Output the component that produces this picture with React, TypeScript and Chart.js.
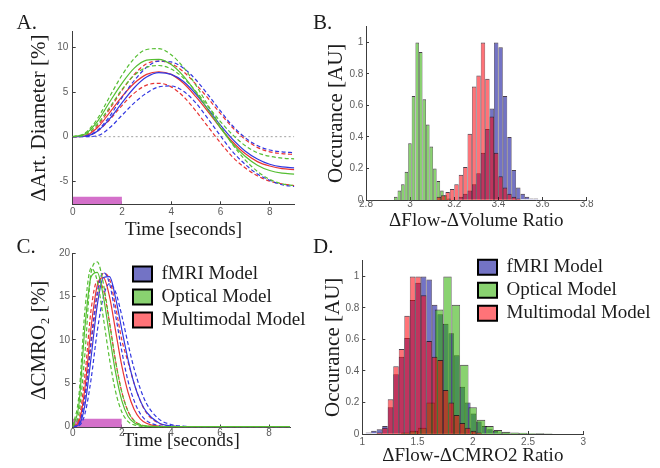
import React, { useEffect, useRef } from "react";
import { Chart, registerables } from "chart.js";

Chart.register(...registerables);

const PAGE_W = 660;
const PAGE_H = 468;

// ---------------- Panel A : arterial diameter ----------------
const A_TIME = [0, 0.5, 1, 1.5, 2, 2.5, 3, 3.5, 4, 4.5, 5, 5.5, 6, 6.5, 7, 7.5, 8, 8.5, 9];
const A_FMRI_MEAN = [0, 0.05, 0.6, 2.0, 3.8, 5.5, 6.7, 7.2, 7.0, 6.2, 4.8, 3.1, 1.3, -0.3, -1.6, -2.5, -3.1, -3.4, -3.5];
const A_FMRI_HI = [0, 0.05, 0.7, 2.3, 4.4, 6.3, 7.8, 8.5, 8.4, 7.7, 6.4, 4.7, 2.9, 1.2, -0.1, -1.0, -1.5, -1.7, -1.8];
const A_FMRI_LO = [0, 0, 0.1, 1.0, 2.4, 3.8, 4.9, 5.6, 5.7, 5.1, 3.8, 2.0, 0.1, -1.7, -3.1, -4.2, -4.9, -5.4, -5.6];
const A_OPT_MEAN = [0, 0.3, 1.7, 3.9, 6.0, 7.7, 8.6, 8.7, 8.1, 6.8, 5.0, 3.0, 1.0, -0.8, -2.2, -3.2, -3.8, -4.1, -4.2];
const A_OPT_HI = [0, 0.4, 2.0, 4.5, 6.9, 8.8, 9.8, 9.9, 9.2, 7.8, 5.8, 3.5, 1.2, -0.9, -2.6, -3.9, -4.8, -5.3, -5.5];
const A_OPT_LO = [0, 0.2, 1.4, 3.3, 5.3, 6.9, 7.8, 8.0, 7.6, 6.6, 5.1, 3.4, 1.7, 0.2, -1.0, -1.8, -2.2, -2.4, -2.5];
const A_MM_MEAN = [0, 0.1, 1.0, 2.7, 4.5, 6.0, 7.0, 7.3, 7.0, 6.0, 4.5, 2.8, 1.0, -0.6, -1.9, -2.8, -3.3, -3.6, -3.7];
const A_MM_HI = [0, 0.1, 1.2, 3.1, 5.2, 7.0, 8.2, 8.5, 8.2, 7.3, 5.9, 4.3, 2.6, 1.0, -0.3, -1.2, -1.7, -1.9, -2.0];
const A_MM_LO = [0, 0.05, 0.6, 1.9, 3.5, 4.9, 5.8, 6.0, 5.6, 4.5, 2.9, 1.1, -0.7, -2.3, -3.5, -4.4, -5.0, -5.3, -5.5];
const A_X_TICKS = [0, 2, 4, 6, 8];
const A_Y_TICKS = [-5, 0, 5, 10];
const A_X_RANGE = [0, 9];
const A_Y_RANGE = [-7.6, 11.8];
const A_ZERO_X = [0, 9];
const A_ZERO_Y = 0;
const STIM_X = [0, 2];
const A_STIM_TOP = -6.75;

// ---------------- Panel B : flow-volume ratio ----------------
const B_FMRI_X = [3.23, 3.25, 3.27, 3.29, 3.31, 3.33, 3.35, 3.37, 3.39, 3.41, 3.43, 3.45, 3.47, 3.49, 3.51, 3.53, 3.55, 3.57, 3.59];
const B_FMRI_Y = [0.02, 0.04, 0.06, 0.1, 0.17, 0.3, 0.45, 0.58, 1.0, 0.97, 0.66, 0.4, 0.19, 0.08, 0.04, 0.02, 0.01, 0.01, 0.005];
const B_OPT_X = [2.935, 2.951, 2.967, 2.983, 2.999, 3.015, 3.032, 3.048, 3.064, 3.08, 3.096, 3.112, 3.128, 3.144, 3.16, 3.176];
const B_OPT_Y = [0.02, 0.06, 0.1, 0.18, 0.36, 0.66, 1.0, 0.94, 0.64, 0.48, 0.34, 0.2, 0.12, 0.06, 0.03, 0.01];
const B_MM_X = [3.13, 3.15, 3.17, 3.19, 3.21, 3.23, 3.25, 3.27, 3.29, 3.31, 3.33, 3.35, 3.37, 3.39, 3.41, 3.43, 3.45, 3.47, 3.49];
const B_MM_Y = [0.02, 0.03, 0.05, 0.07, 0.1, 0.16, 0.21, 0.42, 0.72, 0.79, 1.0, 0.77, 0.53, 0.3, 0.15, 0.08, 0.04, 0.02, 0.01];
const B_X_TICKS = [2.8, 3, 3.2, 3.4, 3.6, 3.8];
const B_X_RANGE = [2.8, 3.8];
const HIST_Y_TICKS = [0, 0.2, 0.4, 0.6, 0.8, 1];
const HIST_Y_RANGE = [0, 1.1];

// ---------------- Panel C : CMRO2 ----------------
const C_TIME = [0, 0.25, 0.5, 0.75, 1, 1.25, 1.5, 1.75, 2, 2.25, 2.5, 2.75, 3, 3.5, 4, 4.5, 5, 6, 7, 8, 8.85];
const C_FMRI_MEAN = [0, 0.2, 2.5, 8.0, 14.0, 17.2, 17.3, 14.8, 11.2, 7.8, 5.0, 3.0, 1.7, 0.45, 0.08, 0, 0, 0, 0, 0, 0];
const C_FMRI_HI = [0, 0.1, 1.5, 5.5, 11.0, 15.0, 16.5, 15.5, 12.8, 9.6, 6.7, 4.4, 2.7, 0.9, 0.25, 0.05, 0, 0, 0, 0, 0];
const C_FMRI_LO = [0, 0.3, 3.5, 10.0, 15.5, 17.8, 16.5, 12.8, 8.7, 5.3, 3.0, 1.5, 0.7, 0.12, 0, 0, 0, 0, 0, 0, 0];
const C_OPT_MEAN = [0, 2.5, 11.5, 17.3, 17.8, 15.0, 10.5, 6.2, 3.0, 1.2, 0.45, 0.15, 0.05, 0, 0, 0, 0, 0, 0, 0, 0];
const C_OPT_HI = [0, 1.5, 8.5, 17.8, 19.0, 16.5, 12.0, 7.5, 4.0, 1.8, 0.7, 0.25, 0.08, 0, 0, 0, 0, 0, 0, 0, 0];
const C_OPT_LO = [0, 3.5, 13.5, 18.3, 16.8, 12.5, 7.8, 4.0, 1.7, 0.6, 0.2, 0.05, 0, 0, 0, 0, 0, 0, 0, 0, 0];
const C_MM_MEAN = [0, 0.5, 4.5, 11.5, 16.3, 17.2, 15.0, 11.0, 7.0, 4.0, 2.0, 0.9, 0.4, 0.05, 0, 0, 0, 0, 0, 0, 0];
const C_MM_HI = [0, 0.4, 3.5, 9.5, 15.0, 17.7, 17.0, 13.8, 10.0, 7.5, 5.0, 3.0, 1.6, 0.4, 0.08, 0, 0, 0, 0, 0, 0];
const C_MM_LO = [0, 0.8, 6.0, 13.5, 16.8, 15.8, 12.0, 7.5, 4.0, 1.8, 0.7, 0.25, 0.08, 0, 0, 0, 0, 0, 0, 0, 0];
const C_X_TICKS = [0, 2, 4, 6, 8];
const C_Y_TICKS = [0, 5, 10, 15, 20];
const C_X_RANGE = [0, 8.85];
const C_Y_RANGE = [-0.1, 20];
const C_STIM_TOP = 0.9;

// ---------------- Panel D : flow-CMRO2 ratio ----------------
const D_FMRI_X = [1.055, 1.105, 1.155, 1.205, 1.255, 1.305, 1.355, 1.405, 1.455, 1.505, 1.555, 1.605, 1.655, 1.705, 1.755, 1.805, 1.855, 1.905, 1.955, 2.005, 2.055, 2.105, 2.155, 2.205, 2.255, 2.305];
const D_FMRI_Y = [0.01, 0.02, 0.03, 0.05, 0.17, 0.38, 0.49, 0.61, 0.85, 0.96, 1.0, 0.98, 0.82, 0.76, 0.7, 0.64, 0.5, 0.3, 0.2, 0.13, 0.08, 0.05, 0.03, 0.02, 0.01, 0.01];
const D_OPT_X = [1.391, 1.467, 1.543, 1.619, 1.695, 1.771, 1.847, 1.923, 1.999, 2.075, 2.151, 2.227, 2.303, 2.379, 2.455, 2.531, 2.607, 2.683];
const D_OPT_Y = [0.01, 0.02, 0.04, 0.2, 0.79, 1.0, 0.82, 0.44, 0.17, 0.09, 0.05, 0.025, 0.015, 0.01, 0.008, 0.005, 0.004, 0.003];
const D_MM_X = [1.155, 1.205, 1.255, 1.305, 1.355, 1.405, 1.455, 1.505, 1.555, 1.605, 1.655, 1.705, 1.755, 1.805, 1.855, 1.905, 1.955, 2.005, 2.055];
const D_MM_Y = [0.01, 0.04, 0.22, 0.43, 0.54, 0.75, 1.0, 1.0, 0.88, 0.59, 0.49, 0.47, 0.28, 0.2, 0.12, 0.07, 0.04, 0.02, 0.01];
const D_X_TICKS = [1, 1.5, 2, 2.5, 3];
const D_X_RANGE = [1, 3];

const MODEL_NAMES = ["fMRI Model", "Optical Model", "Multimodal Model"];

// ---------------- styles ----------------
const SERIF = "'Liberation Serif', 'Times New Roman', 'DejaVu Serif', serif";
const SANS = "'Liberation Sans', Arial, 'DejaVu Sans', sans-serif";
const AXIS_COLOR = "#3c3c3c";
const TICK_COLOR = "#5c5c5c";
const TEXT_COLOR = "#1c1c1c";
const LINE_COLORS = ["rgb(50,55,225)", "rgb(85,190,50)", "rgb(232,52,52)"];
const FILLS = ["rgba(0,0,150,0.55)", "rgba(45,175,0,0.56)", "rgba(255,0,10,0.55)"];
const BAR_EDGE = "rgba(30,15,30,0.8)";
const BAR_EDGE_WIDTH = { left: 0.6, right: 0.6, top: 1, bottom: 0 };
const STIM_COLOR = "rgb(212,112,202)";
const DASH = [4, 2.5];

type Geo = {
  left: number; top: number; right: number; bottom: number;
  yTitleX: number; xTitleY: number; yTitleSize: number; xTitleSize: number;
  xTickPad: number; yTickPad: number;
};

const GEO_A: Geo = { left: 72.7, top: 31.7, right: 294.3, bottom: 204.3, yTitleX: 39.3, xTitleY: 230.2, yTitleSize: 21, xTitleSize: 19, xTickPad: 5, yTickPad: 7.4 };
const GEO_B: Geo = { left: 366, top: 26.7, right: 586.7, bottom: 200, yTitleX: 336, xTitleY: 221.2, yTitleSize: 21, xTitleSize: 19, xTickPad: 1.4, yTickPad: 5.7 };
const GEO_C: Geo = { left: 72.7, top: 253.3, right: 290, bottom: 427.5, yTitleX: 39.3, xTitleY: 441.2, yTitleSize: 21, xTitleSize: 19, xTickPad: 2.9, yTickPad: 5.7 };
const GEO_D: Geo = { left: 362.3, top: 260.7, right: 583.3, bottom: 434, yTitleX: 333, xTitleY: 456.2, yTitleSize: 21, xTitleSize: 19, xTickPad: 5.4, yTickPad: 6 };

function frame(g: Geo) {
  const yLH = g.yTitleSize * 1.2;
  const xLH = g.xTitleSize * 1.2;
  const padLeft = g.yTitleX - yLH / 2;
  const xBottom = g.xTitleY + xLH / 2;
  return {
    padding: { left: padLeft, top: g.top, right: PAGE_W - g.right, bottom: PAGE_H - xBottom },
    yWidth: g.left - padLeft,
    xHeight: xBottom - g.bottom,
  };
}

const setTicks = (values: number[]) => (s: any) => {
  s.ticks = values.map((v) => ({ value: v }));
};

function axisCommon(ticks: number[], pad: number) {
  return {
    afterBuildTicks: setTicks(ticks),
    ticks: {
      autoSkip: false, maxRotation: 0, minRotation: 0, padding: pad, color: TICK_COLOR,
      font: { family: SANS, size: 10 }, callback: (v: any) => String(v),
    },
    grid: { display: true, drawOnChartArea: false, drawTicks: true, tickLength: -3, tickColor: AXIS_COLOR, offset: false },
    border: { display: true, color: AXIS_COLOR, width: 1 },
  };
}

function xAxis(g: Geo, f: any, range: number[], ticks: number[], title: string) {
  return {
    type: "linear", position: "bottom", min: range[0], max: range[1], offset: false,
    afterFit: (s: any) => { s.height = f.xHeight; },
    ...axisCommon(ticks, g.xTickPad),
    title: { display: true, text: title, color: TEXT_COLOR, font: { family: SERIF, size: g.xTitleSize }, padding: 0 },
  };
}

function yAxis(g: Geo, f: any, range: number[], ticks: number[], title: string) {
  return {
    type: "linear", position: "left", min: range[0], max: range[1],
    afterFit: (s: any) => { s.width = f.yWidth; },
    ...axisCommon(ticks, g.yTickPad),
    title: { display: true, text: title, color: TEXT_COLOR, font: { family: SERIF, size: g.yTitleSize }, padding: 0 },
  };
}

const pts = (xs: number[], ys: number[]) => xs.map((x, i) => ({ x, y: ys[i] }));

function lineDs(xs: number[], ys: number[], model: number, dashed: boolean) {
  return {
    type: "line", data: pts(xs, ys), borderColor: LINE_COLORS[model], borderWidth: 1.2,
    borderDash: dashed ? DASH : [], pointRadius: 0, fill: false, cubicInterpolationMode: "monotone", order: 1,
  };
}

function stimDs(top: number) {
  return {
    type: "line", data: pts(STIM_X, [top, top]), borderWidth: 0, borderColor: STIM_COLOR,
    backgroundColor: STIM_COLOR, pointRadius: 0, fill: "start", order: 20,
  };
}

function histDs(xs: number[], ys: number[], model: number) {
  return {
    type: "bar", label: MODEL_NAMES[model], data: pts(xs, ys),
    backgroundColor: FILLS[model], borderColor: BAR_EDGE, borderWidth: BAR_EDGE_WIDTH,
    borderSkipped: false, inflateAmount: 0,
    categoryPercentage: 1, barPercentage: 1,
  };
}

function placeLegend(x: number, y: number) {
  return {
    id: "placeLegend",
    afterLayout(chart: any) {
      const l = chart.legend;
      if (!l) return;
      const w = l.width;
      const h = l.height;
      l.left = x; l.top = y; l.right = x + w; l.bottom = y + h;
    },
  };
}

function legendOpts() {
  return {
    display: true, position: "chartArea", align: "start",
    labels: {
      boxWidth: 19, boxHeight: 15, padding: 4, color: TEXT_COLOR,
      font: { family: SERIF, size: 19 },
      generateLabels: () => MODEL_NAMES.map((name, i) => ({
        text: name, fillStyle: FILLS[i], strokeStyle: "#000", lineWidth: 2,
        hidden: false, datasetIndex: i, fontColor: TEXT_COLOR,
      })),
    },
  };
}

const baseOptions = (padding: any) => ({
  responsive: false, animation: false, devicePixelRatio: 1, events: [],
  layout: { padding },
});

function configA() {
  const f = frame(GEO_A);
  return {
    type: "line",
    data: {
      datasets: [
        lineDs(A_TIME, A_OPT_HI, 1, true), lineDs(A_TIME, A_OPT_LO, 1, true), lineDs(A_TIME, A_OPT_MEAN, 1, false),
        lineDs(A_TIME, A_FMRI_HI, 0, true), lineDs(A_TIME, A_FMRI_LO, 0, true), lineDs(A_TIME, A_FMRI_MEAN, 0, false),
        lineDs(A_TIME, A_MM_HI, 2, true), lineDs(A_TIME, A_MM_LO, 2, true), lineDs(A_TIME, A_MM_MEAN, 2, false),
        { type: "line", data: pts(A_ZERO_X, [A_ZERO_Y, A_ZERO_Y]), borderColor: "#a0a0a0", borderWidth: 1, borderDash: [2, 2.5], pointRadius: 0, fill: false, order: 15 },
        stimDs(A_STIM_TOP),
      ],
    },
    options: {
      ...baseOptions(f.padding),
      plugins: { legend: { display: false }, tooltip: { enabled: false } },
      scales: {
        x: xAxis(GEO_A, f, A_X_RANGE, A_X_TICKS, "Time [seconds]"),
        y: yAxis(GEO_A, f, A_Y_RANGE, A_Y_TICKS, "ΔArt. Diameter [%]"),
      },
    },
  };
}

function configC() {
  const f = frame(GEO_C);
  return {
    type: "line",
    data: {
      datasets: [
        lineDs(C_TIME, C_OPT_HI, 1, true), lineDs(C_TIME, C_OPT_LO, 1, true), lineDs(C_TIME, C_OPT_MEAN, 1, false),
        lineDs(C_TIME, C_FMRI_HI, 0, true), lineDs(C_TIME, C_FMRI_LO, 0, true), lineDs(C_TIME, C_FMRI_MEAN, 0, false),
        lineDs(C_TIME, C_MM_HI, 2, true), lineDs(C_TIME, C_MM_LO, 2, true), lineDs(C_TIME, C_MM_MEAN, 2, false),
        stimDs(C_STIM_TOP),
      ],
    },
    options: {
      ...baseOptions(f.padding),
      plugins: { legend: legendOpts(), tooltip: { enabled: false } },
      scales: {
        x: xAxis(GEO_C, f, C_X_RANGE, C_X_TICKS, "Time [seconds]"),
        y: yAxis(GEO_C, f, C_Y_RANGE, C_Y_TICKS, "ΔCMRO₂ [%]"),
      },
    },
    plugins: [placeLegend(129, 260.5)],
  };
}

// One histogram per chart instance, stacked as transparent layers on the same plot frame.
type HistLayer = {
  g: Geo; xRange: number[]; xTicks: number[]; xs: number[]; ys: number[]; model: number;
  axes?: { x: string; y: string }; legendAt?: number[];
};

function histConfig(h: HistLayer) {
  const f = frame(h.g);
  const padding = h.axes
    ? f.padding
    : { left: h.g.left, top: h.g.top, right: PAGE_W - h.g.right, bottom: PAGE_H - h.g.bottom };
  const scales = h.axes
    ? {
        x: xAxis(h.g, f, h.xRange, h.xTicks, h.axes.x),
        y: yAxis(h.g, f, HIST_Y_RANGE, HIST_Y_TICKS, h.axes.y),
      }
    : {
        x: { type: "linear", display: false, min: h.xRange[0], max: h.xRange[1], offset: false, afterBuildTicks: setTicks(h.xTicks), grid: { offset: false } },
        y: { type: "linear", display: false, min: HIST_Y_RANGE[0], max: HIST_Y_RANGE[1] },
      };
  return {
    type: "bar",
    data: { datasets: [histDs(h.xs, h.ys, h.model)] },
    options: {
      ...baseOptions(padding),
      plugins: { legend: h.legendAt ? legendOpts() : { display: false }, tooltip: { enabled: false } },
      scales,
    },
    plugins: h.legendAt ? [placeLegend(h.legendAt[0], h.legendAt[1])] : [],
  };
}

const configB0 = () => histConfig({ g: GEO_B, xRange: B_X_RANGE, xTicks: B_X_TICKS, xs: B_FMRI_X, ys: B_FMRI_Y, model: 0, axes: { x: "ΔFlow-ΔVolume Ratio", y: "Occurance [AU]" } });
const configB1 = () => histConfig({ g: GEO_B, xRange: B_X_RANGE, xTicks: B_X_TICKS, xs: B_OPT_X, ys: B_OPT_Y, model: 1 });
const configB2 = () => histConfig({ g: GEO_B, xRange: B_X_RANGE, xTicks: B_X_TICKS, xs: B_MM_X, ys: B_MM_Y, model: 2 });
const configD0 = () => histConfig({ g: GEO_D, xRange: D_X_RANGE, xTicks: D_X_TICKS, xs: D_FMRI_X, ys: D_FMRI_Y, model: 0, axes: { x: "ΔFlow-ΔCMRO2 Ratio", y: "Occurance [AU]" } });
const configD1 = () => histConfig({ g: GEO_D, xRange: D_X_RANGE, xTicks: D_X_TICKS, xs: D_OPT_X, ys: D_OPT_Y, model: 1 });
const configD2 = () => histConfig({ g: GEO_D, xRange: D_X_RANGE, xTicks: D_X_TICKS, xs: D_MM_X, ys: D_MM_Y, model: 2, legendAt: [474, 253.8] });

function ChartLayer({ build }: { build: () => any }) {
  const ref = useRef<HTMLCanvasElement | null>(null);
  useEffect(() => {
    if (!ref.current) return;
    const chart = new Chart(ref.current, build());
    return () => chart.destroy();
  }, [build]);
  return (
    <canvas
      ref={ref}
      width={PAGE_W}
      height={PAGE_H}
      style={{ position: "absolute", left: 0, top: 0, width: PAGE_W, height: PAGE_H }}
    />
  );
}

const PANEL_LETTERS = [
  { text: "A.", left: 16.5, top: 11.5 },
  { text: "B.", left: 313, top: 11.5 },
  { text: "C.", left: 16.5, top: 235.5 },
  { text: "D.", left: 313, top: 235.5 },
];

const LAYERS = [configA, configC, configB0, configB1, configB2, configD0, configD1, configD2];

export default function App() {
  return (
    <div style={{ position: "absolute", left: 0, top: 0, width: PAGE_W, height: PAGE_H, background: "#fff", overflow: "hidden" }}>
      {LAYERS.map((build, i) => (
        <ChartLayer key={i} build={build} />
      ))}
      {PANEL_LETTERS.map((p) => (
        <div
          key={p.text}
          style={{
            position: "absolute", left: p.left, top: p.top, fontFamily: SERIF, fontSize: 21,
            lineHeight: "20px", color: TEXT_COLOR, whiteSpace: "nowrap",
          }}
        >
          {p.text}
        </div>
      ))}
    </div>
  );
}
